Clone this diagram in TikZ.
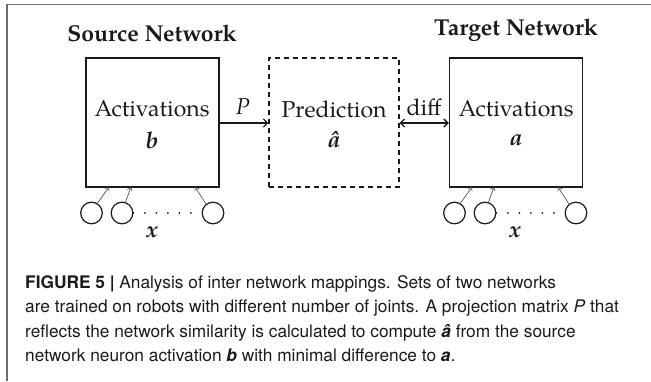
\documentclass[tikz,border=0pt]{standalone}
\usepackage{fontspec}
\usetikzlibrary{arrows.meta}
\newfontfamily\pal{TeX Gyre Pagella}
\newfontfamily\helv{TeX Gyre Heros}
\definecolor{framegray}{HTML}{6E6E6E}
\definecolor{ink}{HTML}{1A1A1A}
\definecolor{thingray}{HTML}{555555}
\tikzset{
  netbox/.style={draw=ink, line width=1.4pt, minimum width=133pt, minimum height=129pt, inner sep=0pt},
  predbox/.style={draw=ink, line width=1.3pt, dash pattern=on 5pt off 4pt, minimum width=130pt, minimum height=129pt, inner sep=0pt},
  dtext/.style={font=\pal\fontsize{23}{31}\selectfont, text=ink, inner sep=0pt},
  title/.style={font=\pal\bfseries\fontsize{23}{28}\selectfont, text=ink, inner sep=0pt},
  neuron/.style={draw=ink, circle, line width=1.2pt, minimum size=21.6pt, inner sep=0pt},
  inarrow/.style={draw=thingray, line width=0.7pt, -{Straight Barb[length=3pt,width=5pt]}},
  mainarrow/.style={draw=ink, line width=1.3pt, -{Straight Barb[length=4pt,width=8pt]}},
  dotline/.style={draw=ink, line width=2pt, line cap=round, dash pattern=on 0pt off 11.5pt},
  frameline/.style={draw=framegray, line width=1.2pt},
}
\begin{document}
\begin{tikzpicture}[x=1pt,y=-1pt]
\useasboundingbox (0,0) rectangle (651,381);
% frame
\coordinate (ftl) at (7,4.5);
\coordinate (ftr) at (651,4.5);
\coordinate (fbl) at (7,381);
\draw[frameline] (ftr) -- (ftl) -- (fbl);

% titles
\node[title] (srct) at (152,33) {Source Network};
\node[title] (tgtt) at (516,30) {Target Network};

% boxes
\node[netbox] (src) at (152.5,122.5) {};
\node[predbox] (pred) at (334,122.5) {};
\node[netbox] (tgt) at (516,122.5) {};

\node[dtext] (srcA) at (152,109) {Activations};
\node[dtext] (srcb) at (152,140) {\bfseries\itshape b};
\node[dtext] (predA) at (334,109) {Prediction};
\node[dtext] (preda) at (334,140) {\bfseries\itshape â};
\node[dtext] (tgtA) at (516,109) {Activations};
\node[dtext] (tgta) at (516,140) {\bfseries\itshape a};

% connectors
\draw[mainarrow] (src.east |- 0,123) -- (pred.west |- 0,123);
\draw[mainarrow, {Straight Barb[length=4pt,width=8pt]}-{Straight Barb[length=4pt,width=8pt]}] (pred.east |- 0,123) -- (tgt.west |- 0,123);
\node[dtext] (Plab) at (243,107) {\itshape P};
\node[dtext] (difflab) at (424,107) {diff};

% source neurons
\node[neuron] (s1) at (91.5,213) {};
\node[neuron] (s2) at (122,213) {};
\node[neuron] (s3) at (213,213) {};
\draw[dotline] (s2.east) -- (s3.west);
\coordinate (s1t) at (109,187);
\coordinate (s2t) at (131,187);
\coordinate (s3t) at (195,187);
\draw[inarrow] (s1.59) -- (s1t);
\draw[inarrow] (s2.72) -- (s2t);
\draw[inarrow] (s3.128) -- (s3t);
\node[dtext] (sx) at (152,232) {\bfseries\itshape x};

% target neurons
\node[neuron] (t1) at (454.5,213) {};
\node[neuron] (t2) at (485,213) {};
\node[neuron] (t3) at (576,213) {};
\draw[dotline] (t2.east) -- (t3.west);
\coordinate (t1t) at (472,187);
\coordinate (t2t) at (494,187);
\coordinate (t3t) at (558,187);
\draw[inarrow] (t1.59) -- (t1t);
\draw[inarrow] (t2.72) -- (t2t);
\draw[inarrow] (t3.128) -- (t3t);
\node[dtext] (tx) at (515,232) {\bfseries\itshape x};

% caption
\node[anchor=base west, align=left, inner sep=0pt, text=ink, font=\helv\fontsize{17.3}{24.5}\selectfont] (cap) at (25,361.5)
{{\bfseries FIGURE 5 |} Analysis of inter network mappings. Sets of two networks\\
are trained on robots with different number of joints. A projection matrix \textit{P} that\\
reflects the network similarity is calculated to compute \textbf{\textit{â}} from the source\\
network neuron activation \textbf{\textit{b}} with minimal difference to \textbf{\textit{a}}.};
\end{tikzpicture}
\end{document}
